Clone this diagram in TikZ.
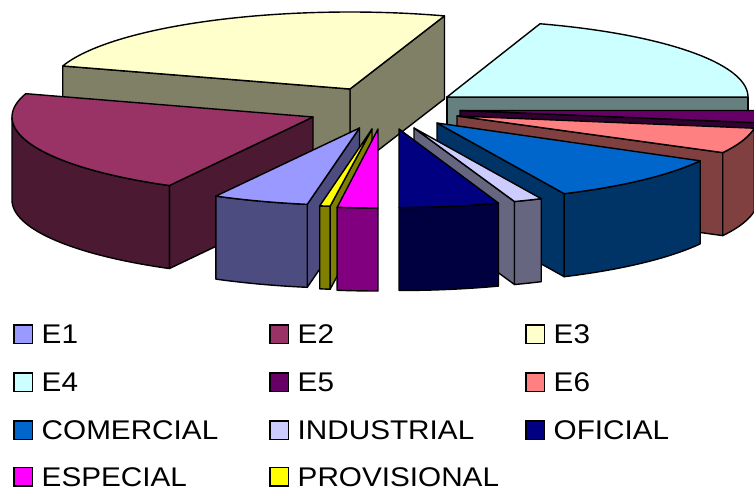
\documentclass[tikz,border=0pt]{standalone}
\usepackage{fontspec}
\setmainfont{Liberation Sans}
\definecolor{cEone}{HTML}{9999FF}
\definecolor{cEtwo}{HTML}{993366}
\definecolor{cEthree}{HTML}{FFFFCC}
\definecolor{cEfour}{HTML}{CCFFFF}
\definecolor{cEfive}{HTML}{660066}
\definecolor{cEsix}{HTML}{FF8080}
\definecolor{cCom}{HTML}{0066CC}
\definecolor{cInd}{HTML}{CCCCFF}
\definecolor{cOfi}{HTML}{000080}
\definecolor{cEsp}{HTML}{FF00FF}
\definecolor{cPro}{HTML}{FFFF00}
\newcommand{\pieRX}{301}
\newcommand{\pieH}{83}
% top face: cx cy ry t1 t2 color
\newcommand{\pieTop}[6]{%
  \filldraw[pieface,fill=#6] (#1,#2) -- plot[domain=#4:#5,samples=60]
    ({#1+\pieRX*cos(\x)},{#2-#3*sin(\x)}) -- cycle;}
% outer side: cx cy ry t1 t2 color
\newcommand{\pieSide}[6]{%
  \filldraw[pieface,fill=#6!50!black] plot[domain=#4:#5,samples=60]
    ({#1+\pieRX*cos(\x)},{#2-#3*sin(\x)}) -- plot[domain=#4:#5,samples=60]
    ({#1+\pieRX*cos(#4+#5-\x)},{#2+\pieH-#3*sin(#4+#5-\x)}) -- cycle;}
% radial face: cx cy ry t color
\newcommand{\pieRad}[5]{%
  \filldraw[pieface,fill=#5!50!black] ({#1},{#2}) -- ({#1+\pieRX*cos(#4)},{#2-#3*sin(#4)})
    -- ++(0,\pieH) -- ({#1},{#2+\pieH}) -- cycle;}
% legend item: x y color name text
\newcommand{\legItem}[5]{%
  \node[legbox,fill=#3] (#4-box) at ({#1+9.25},{#2+9.25}) {};
  \node[legtext] (#4-label) at ({#1+27.5},{#2+18.5}) {\scalebox{1.1}[1]{#5}};}
\tikzset{
  pieface/.style={draw=black,line width=1.4pt,line join=round},
  legbox/.style={draw=black,line width=1.2pt,minimum size=18.5pt,inner sep=0pt},
  legtext/.style={anchor=base west,inner sep=0pt,text depth=0pt,font=\fontsize{27}{30}\selectfont}
}
\begin{document}
\begin{tikzpicture}[x=1pt,y=-1pt]
\useasboundingbox (0,0) rectangle (754,489);
\clip (0,0) rectangle (754,489);
% E3
\pieRad{350}{89}{77}{71.7}{cEthree}
\pieRad{350}{89}{77}{162.6}{cEthree}
\pieTop{350}{89}{77}{71.7}{162.6}{cEthree}
% E4
\pieRad{447}{97}{77}{0}{cEfour}
\pieTop{447}{97}{77}{0}{72}{cEfour}
% E5
\pieRad{460}{110.5}{78}{351}{cEfive}
\pieSide{460}{110.5}{78}{351}{360}{cEfive}
\pieTop{460}{110.5}{78}{351}{360}{cEfive}
% E6
\pieRad{457}{116}{78}{332}{cEsix}
\pieSide{457}{116}{78}{332}{351}{cEsix}
\pieTop{457}{116}{78}{332}{351}{cEsix}
% E2
\pieRad{313}{117}{78}{241.5}{cEtwo}
\pieSide{313}{117}{78}{180}{241.5}{cEtwo}
\pieTop{313}{117}{78}{162.6}{241.5}{cEtwo}
% COMERCIAL
\pieRad{437}{123}{78}{295}{cCom}
\pieSide{437}{123}{78}{295}{331}{cCom}
\pieTop{437}{123}{78}{295}{331}{cCom}
% INDUSTRIAL
\pieRad{414}{128}{78}{289.5}{cInd}
\pieSide{414}{128}{78}{289.5}{295}{cInd}
\pieTop{414}{128}{78}{289.5}{295}{cInd}
% OFICIAL
\pieSide{399}{129}{78.5}{270}{289.3}{cOfi}
\pieTop{399}{129}{78.5}{270}{289.3}{cOfi}
% E1
\pieRad{359.5}{128}{77.5}{260}{cEone}
\pieSide{359.5}{128}{77.5}{241.5}{260}{cEone}
\pieTop{359.5}{128}{77.5}{241.5}{260}{cEone}
% PROVISIONAL
\pieRad{372}{129}{78}{262}{cPro}
\pieSide{372}{129}{78}{260}{262}{cPro}
\pieTop{372}{129}{78}{260}{262}{cPro}
% ESPECIAL
\pieSide{378}{129}{79}{262.2}{270}{cEsp}
\pieTop{378}{129}{79}{262.2}{270}{cEsp}
% legend
\legItem{14}{325}{cEone}{e1}{E1}
\legItem{270}{325}{cEtwo}{e2}{E2}
\legItem{526}{325}{cEthree}{e3}{E3}
\legItem{14}{373}{cEfour}{e4}{E4}
\legItem{270}{373}{cEfive}{e5}{E5}
\legItem{526}{373}{cEsix}{e6}{E6}
\legItem{14}{421}{cCom}{com}{COMERCIAL}
\legItem{270}{421}{cInd}{ind}{INDUSTRIAL}
\legItem{526}{421}{cOfi}{ofi}{OFICIAL}
\legItem{14}{467.5}{cEsp}{esp}{ESPECIAL}
\legItem{270}{467.5}{cPro}{pro}{PROVISIONAL}
\end{tikzpicture}
\end{document}
